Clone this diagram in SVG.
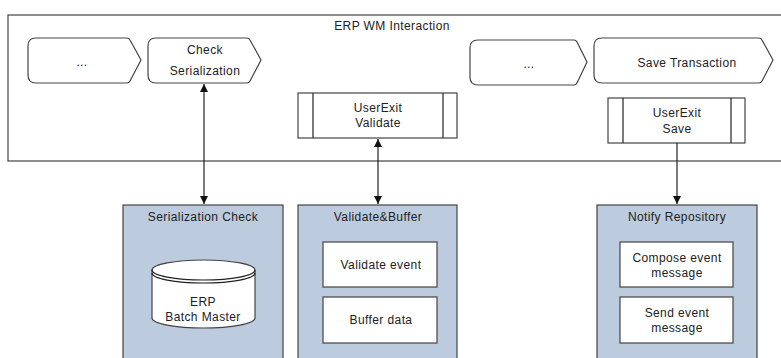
<svg xmlns="http://www.w3.org/2000/svg" width="781" height="358" viewBox="0 0 781 358">
<defs>
<style>
text{font-family:"Liberation Sans",Arial,sans-serif;font-size:12px;letter-spacing:0.4px;fill:#222;text-anchor:middle}
.s{fill:#fff;stroke:#444;stroke-width:1.2}
.b{fill:#bccbde;stroke:#444;stroke-width:1.2}
.ln{stroke:#222;stroke-width:1.2;fill:none}
</style>
<marker id="ah" viewBox="0 0 10 10" refX="10" refY="5" markerWidth="8" markerHeight="8" orient="auto-start-reverse" markerUnits="userSpaceOnUse"><path d="M0,0 L10,5 L0,10 Z" fill="#111"/></marker>
</defs>
<rect width="781" height="358" fill="#fff"/>
<g id="erp-wm-interaction">
<rect x="8" y="15" width="790" height="146" class="s"/>
<text x="392" y="30">ERP WM Interaction</text>
</g>
<g id="step1">
<path class="s" d="M36,38 H127 Q129,38 130,40 L141,60 L130,81 Q129,83 127,83 H36 Q28,83 28,75 V46 Q28,38 36,38 Z"/>
<text x="82" y="66">...</text>
</g>
<g id="check-serialization">
<path class="s" d="M156,38 H247 Q249,38 250,40 L261,60 L250,81 Q249,83 247,83 H156 Q148,83 148,75 V46 Q148,38 156,38 Z"/>
<text x="205" y="54">Check</text>
<text x="205" y="75">Serialization</text>
</g>
<g id="step3">
<path class="s" d="M478,40 H574 Q576,40 577,42 L587,62 L577,83 Q576,85 574,85 H478 Q470,85 470,77 V48 Q470,40 478,40 Z"/>
<text x="529" y="68">...</text>
</g>
<g id="save-transaction">
<path class="s" d="M602,38 H759 Q761,38 762,40 L773,60 L762,81 Q761,83 759,83 H602 Q594,83 594,75 V46 Q594,38 602,38 Z"/>
<text x="687" y="67">Save Transaction</text>
</g>
<g id="userexit-validate">
<rect x="298" y="93" width="159" height="45" class="s"/>
<line x1="313" y1="93" x2="313" y2="138" class="ln" stroke="#444"/>
<line x1="443" y1="93" x2="443" y2="138" class="ln" stroke="#444"/>
<text x="378" y="112">UserExit</text>
<text x="378" y="127">Validate</text>
</g>
<g id="userexit-save">
<rect x="608" y="98" width="137" height="45" class="s"/>
<line x1="623" y1="98" x2="623" y2="143" class="ln"/>
<line x1="731" y1="98" x2="731" y2="143" class="ln"/>
<text x="677" y="117">UserExit</text>
<text x="677" y="133">Save</text>
</g>
<g id="serialization-check">
<rect x="123" y="205" width="160" height="160" class="b"/>
<text x="203" y="221">Serialization Check</text>
<path class="s" d="M152,270 A51.5,10 0 0 1 255,270 V318 A51.5,10 0 0 1 152,318 Z"/>
<path class="ln" stroke="#444" d="M152,270 A51.5,10 0 0 0 255,270"/>
<path class="ln" stroke="#444" d="M152,273 A51.5,10 0 0 0 255,273"/>
<text x="203" y="306">ERP</text>
<text x="203" y="321">Batch Master</text>
</g>
<g id="validate-buffer">
<rect x="298" y="205" width="159" height="160" class="b"/>
<text x="378" y="221">Validate&amp;Buffer</text>
<rect x="323" y="242" width="114" height="45" class="s"/>
<text x="381" y="269">Validate event</text>
<rect x="323" y="297" width="114" height="46" class="s"/>
<text x="381" y="324">Buffer data</text>
</g>
<g id="notify-repository">
<rect x="597" y="205" width="160" height="160" class="b"/>
<text x="677" y="221">Notify Repository</text>
<rect x="620" y="242" width="113" height="45" class="s"/>
<text x="677" y="262">Compose event</text>
<text x="677" y="277">message</text>
<rect x="620" y="297" width="113" height="46" class="s"/>
<text x="677" y="317">Send event</text>
<text x="677" y="332">message</text>
</g>
<g id="connectors">
<line x1="204" y1="84" x2="204" y2="204" class="ln" marker-start="url(#ah)" marker-end="url(#ah)"/>
<line x1="378" y1="139" x2="378" y2="204" class="ln" marker-start="url(#ah)" marker-end="url(#ah)"/>
<line x1="677" y1="143" x2="677" y2="204" class="ln" marker-end="url(#ah)"/>
</g>
</svg>
